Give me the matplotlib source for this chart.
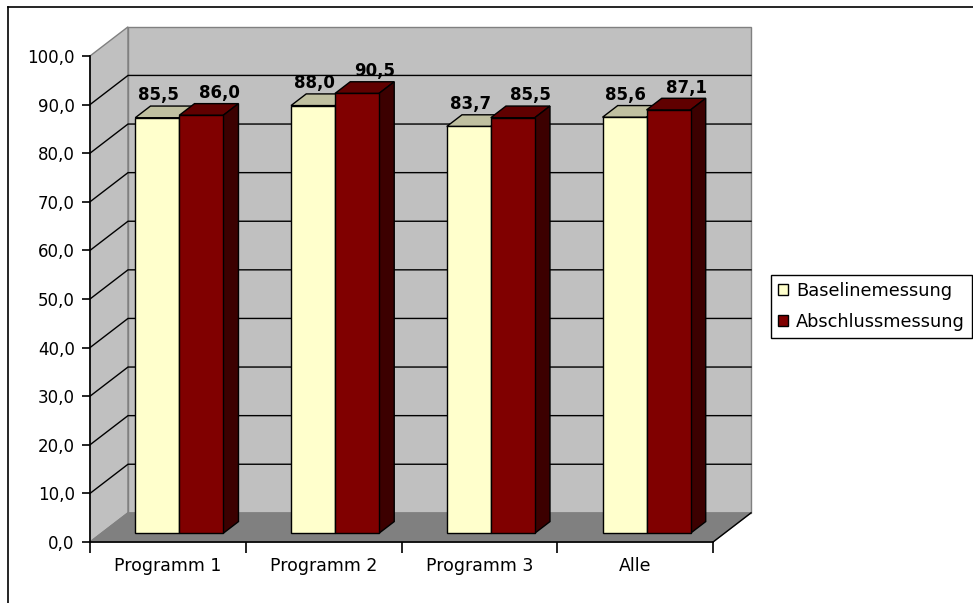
import matplotlib

matplotlib.use("Agg")
import matplotlib.pyplot as plt
from matplotlib.patches import Polygon, Patch
from matplotlib.lines import Line2D

plt.rcParams.update({"font.family": ["DejaVu Sans"], "font.size": 12})

categories = ["Programm 1", "Programm 2", "Programm 3", "Alle"]
baseline = [85.5, 88.0, 83.7, 85.6]
abschluss = [86.0, 90.5, 85.5, 87.1]
series_names = ["Baselinemessung", "Abschlussmessung"]
y_ticks = list(range(0, 101, 10))

# face colours: front, top, side
FACES = [("#FFFFCC", "#C0C0A0", "#A0A080"), ("#800000", "#600000", "#3C0000")]
WALL = "#C0C0C0"
FLOOR = "#808080"

# depth vector of the 3D box in data units (category units, value units)
DX, DY = 0.244, 6.0
BAR_W = 0.2825
D0, D1 = 0.3, 0.7          # bar depth range as fraction of box depth
LABEL_DX = [-0.04, 0.065]  # label shift per series
LABEL_DY = 2.2


def fmt(v):
    return f"{v:.1f}".replace(".", ",")


def shift(x, y, d):
    return x + d * DX, y + d * DY


W, H = 973, 603
fig = plt.figure(figsize=(W / 100, H / 100), dpi=100)
ax = fig.add_axes([90 / W, 61 / H, 623 / W, 486 / H])
ax.set_xlim(0, len(categories))
ax.set_ylim(0, 100)
ax.set_facecolor("none")
n = len(categories)

# walls and floor
ax.add_patch(Polygon([(0, 0), shift(0, 0, 1), shift(0, 100, 1), (0, 100)],
                     closed=True, fc=WALL, ec=FLOOR, lw=1, zorder=0, clip_on=False))
ax.add_patch(Polygon([shift(0, 0, 1), shift(n, 0, 1), shift(n, 100, 1), shift(0, 100, 1)],
                     closed=True, fc=WALL, ec=FLOOR, lw=1, zorder=0, clip_on=False))
for v in y_ticks[1:-1]:
    x0, y0 = shift(0, v, 1)
    x1, y1 = shift(n, v, 1)
    ax.plot([0, x0, x1], [v, y0, y1], color="black", lw=1, zorder=1, clip_on=False)
ax.add_patch(Polygon([(0, 0), (n, 0), shift(n, 0, 1), shift(0, 0, 1)],
                     closed=True, fc=FLOOR, ec=FLOOR, lw=1, zorder=1, clip_on=False))
fx, fy = shift(n, 0, 1)
ax.plot([n, fx], [0, fy], color="black", lw=1, zorder=1, clip_on=False)

# bars
for i in range(n):
    for s, vals in enumerate([baseline, abschluss]):
        v = vals[i]
        xl = i + 0.5 - BAR_W + s * BAR_W
        xr = xl + BAR_W
        front_c, top_c, side_c = FACES[s]
        top = [shift(xl, v, D0), shift(xr, v, D0), shift(xr, v, D1), shift(xl, v, D1)]
        side = [shift(xr, 0, D0), shift(xr, 0, D1), shift(xr, v, D1), shift(xr, v, D0)]
        front = [shift(xl, 0, D0), shift(xr, 0, D0), shift(xr, v, D0), shift(xl, v, D0)]
        for pts, c in [(top, top_c), (side, side_c), (front, front_c)]:
            ax.add_patch(Polygon(pts, closed=True, fc=c, ec="black", lw=1,
                                 zorder=2, clip_on=False))
        lx, ly = shift(xl + BAR_W / 2, v, 0.5)
        ax.text(lx + LABEL_DX[s], v + D1 * DY + LABEL_DY, fmt(v), ha="center",
                va="center", fontsize=12, fontweight="bold", zorder=5, clip_on=False)

# front axes
for side in ["top", "right"]:
    ax.spines[side].set_visible(False)
for side in ["left", "bottom"]:
    ax.spines[side].set_zorder(3)
    ax.spines[side].set_linewidth(1.2)
ax.set_yticks(y_ticks, [fmt(v) for v in y_ticks])
ax.tick_params(axis="y", length=6, width=1.2, pad=5)
ax.set_xticks([i + 0.5 for i in range(n)], categories)
ax.set_xticks(range(n + 1), minor=True)
ax.tick_params(axis="x", which="major", length=0, pad=11, labelsize=12.5)
ax.tick_params(axis="x", which="minor", length=8, width=1.2)

# outer chart frame
fig.add_artist(Line2D([8 / W, 8 / W], [-0.1, 1 - 7 / H], color="black", lw=1.2))
fig.add_artist(Line2D([8 / W, 1.1], [1 - 7 / H, 1 - 7 / H], color="black", lw=1.2))

handles = [Patch(fc=FACES[s][0], ec="black", lw=1) for s in range(2)]
leg = fig.legend(handles, series_names, loc="upper left", fontsize=12.8,
                 bbox_to_anchor=(771 / W, 1 - 275 / H), frameon=True, fancybox=False,
                 edgecolor="black", framealpha=1, handlelength=0.55, handleheight=0.55,
                 handletextpad=0.45, labelspacing=0.72, borderpad=0.4, borderaxespad=0)
leg.get_frame().set_linewidth(1)

fig.savefig("out.png", dpi=100)
